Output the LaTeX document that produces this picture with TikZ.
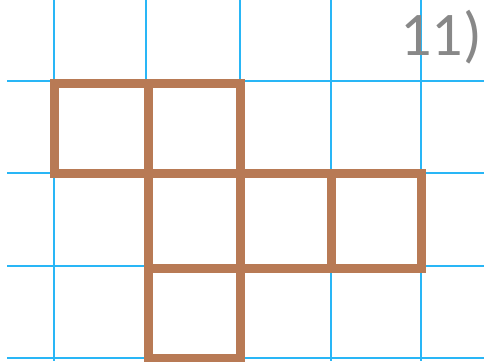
\documentclass[tikz,border=0pt]{standalone}
\usepackage{fontspec}
\newfontfamily\labelfont{Carlito}
\definecolor{gridblue}{RGB}{41,182,246}
\definecolor{shapebrown}{RGB}{184,122,85}
\definecolor{labelgray}{RGB}{136,136,136}
\begin{document}
\begin{tikzpicture}[x=1pt,y=-1pt,grid line/.style={gridblue,line width=2pt},cell line/.style={shapebrown,line width=9pt,line join=miter},main node/.style={inner sep=0pt,font=\labelfont\fontsize{62}{62}\selectfont,text=labelgray}]
        \useasboundingbox (0,0) rectangle (484,361);
        \fill[white] (0,0) rectangle (484,361);
        \foreach \x in {54,146,240,331,421} \draw[grid line] (\x,0) -- (\x,361);
        \foreach \y in {81,173,266,358} \draw[grid line] (7,\y) -- (484,\y);
        \foreach \xa/\xb/\ya/\yb in {54/148/83/173,148/240/83/173,148/240/173/268,240/331/173/268,331/421/173/268,148/240/268/358}
          \draw[cell line] (\xa,\ya) rectangle (\xb,\yb);
        \node[main node,anchor=base east] (num) at (482,56) {11)};
      \end{tikzpicture}
\end{document}
